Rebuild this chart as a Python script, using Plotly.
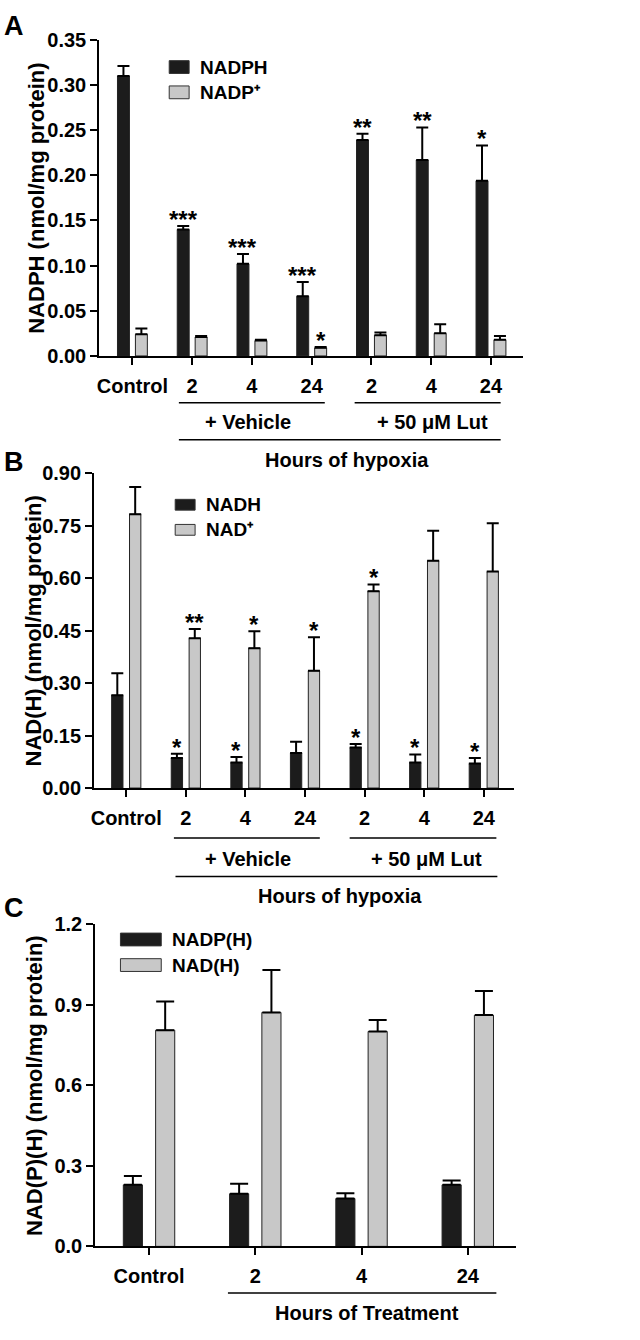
import plotly.graph_objects as go

W, H = 640, 1340
FONT = "Liberation Sans, Arial, sans-serif"

# ---------------- Data ----------------
# Panel A
a_categories = ["Control", "2", "4", "24", "2", "4", "24"]
a_nadph = [0.310, 0.140, 0.102, 0.066, 0.239, 0.217, 0.194]
a_nadph_err = [0.011, 0.004, 0.011, 0.016, 0.007, 0.036, 0.039]
a_nadp = [0.024, 0.021, 0.017, 0.009, 0.023, 0.025, 0.018]
a_nadp_err = [0.0065, 0.001, 0.001, 0.001, 0.003, 0.010, 0.004]
a_nadph_sig = ["", "***", "***", "***", "**", "**", "*"]
a_nadp_sig = ["", "", "", "*", "", "", ""]

# Panel B
b_categories = ["Control", "2", "4", "24", "2", "4", "24"]
b_nadh = [0.265, 0.086, 0.073, 0.100, 0.116, 0.073, 0.070]
b_nadh_err = [0.063, 0.012, 0.016, 0.032, 0.010, 0.023, 0.016]
b_nad = [0.783, 0.428, 0.400, 0.335, 0.563, 0.650, 0.619]
b_nad_err = [0.078, 0.027, 0.048, 0.096, 0.019, 0.086, 0.138]
b_nadh_sig = ["", "*", "*", "", "*", "*", "*"]
b_nad_sig = ["", "**", "*", "*", "*", "", ""]

# Panel C
c_categories = ["Control", "2", "4", "24"]
c_nadph = [0.229, 0.196, 0.178, 0.229]
c_nadph_err = [0.033, 0.037, 0.020, 0.016]
c_nadh = [0.805, 0.871, 0.800, 0.861]
c_nadh_err = [0.107, 0.158, 0.043, 0.090]

BLACK = "#1c1c1c"
GREY = "#c8c8c8"


def px(x):
    return x / W


def py(y):
    return 1 - y / H


fig = go.Figure()


def add_pair(xref, yref, cats, v1, e1, v2, e2, names, width, shift, capw):
    xs = list(range(len(cats)))
    for vals, errs, name, col, sgn in [(v1, e1, names[0], BLACK, -1), (v2, e2, names[1], GREY, 1)]:
        fig.add_trace(go.Bar(
            x=xs, y=vals, name=name, xaxis=xref, yaxis=yref,
            width=width, offset=sgn * shift - width / 2,
            marker=dict(color=col, line=dict(color="#222222", width=1)),
            error_y=dict(type="data", symmetric=False, array=errs,
                         arrayminus=[0] * len(errs), color="black",
                         thickness=2, width=capw),
            showlegend=False,
        ))


add_pair("x", "y", a_categories, a_nadph, a_nadph_err, a_nadp, a_nadp_err,
         ["NADPH", "NADP+"], 0.2, 0.15, 6)
add_pair("x2", "y2", b_categories, b_nadh, b_nadh_err, b_nad, b_nad_err,
         ["NADH", "NAD+"], 0.19, 0.15, 6)
add_pair("x3", "y3", c_categories, c_nadph, c_nadph_err, c_nadh, c_nadh_err,
         ["NADP(H)", "NAD(H)"], 0.18, 0.152, 9)

annotations = []
shapes = []


def add_stars(xref, yref, vals, errs, sigs, shift):
    for i, (v, e, s) in enumerate(zip(vals, errs, sigs)):
        if s:
            annotations.append(dict(
                x=i + shift, y=v + e, xref=xref, yref=yref, text=s,
                showarrow=False, yanchor="bottom", xanchor="center", yshift=-9,
                font=dict(family=FONT, size=24, color="black", weight="bold")))


add_stars("x", "y", a_nadph, a_nadph_err, a_nadph_sig, -0.15)
add_stars("x", "y", a_nadp, a_nadp_err, a_nadp_sig, 0.15)
add_stars("x2", "y2", b_nadh, b_nadh_err, b_nadh_sig, -0.15)
add_stars("x2", "y2", b_nad, b_nad_err, b_nad_sig, 0.15)

TS = 20
txtfont = dict(family=FONT, size=TS, color="black", weight="bold")


def text(x, y, s, size=TS, xanchor="center", angle=0):
    annotations.append(dict(x=px(x), y=py(y), xref="paper", yref="paper", text=s,
                            showarrow=False, xanchor=xanchor, yanchor="middle",
                            textangle=angle,
                            font=dict(family=FONT, size=size, color="black", weight="bold")))


def hline(x0, x1, y, w=1.5):
    shapes.append(dict(type="line", xref="paper", yref="paper", x0=px(x0), x1=px(x1),
                       y0=py(y), y1=py(y), line=dict(color="black", width=w)))


def rect(x0, x1, yc, h, col):
    shapes.append(dict(type="rect", xref="paper", yref="paper", x0=px(x0), x1=px(x1),
                       y0=py(yc + h / 2), y1=py(yc - h / 2),
                       fillcolor=col, line=dict(color="#333333", width=1)))


# panel letters
text(-1, 15, "A", size=27, xanchor="left")
text(-1, 459, "B", size=27, xanchor="left")
text(-1, 912, "C", size=27, xanchor="left")

# y titles
text(34, 190, "NADPH (nmol/mg protein)", size=22, angle=-90)
text(31, 630, "NAD(H) (nmol/mg protein)", size=22, angle=-90)
text(31, 1092, "NAD(P)(H) (nmol/mg protein)", size=22, angle=-90)

# legends
rect(167, 187, 57, 13, BLACK)
text(196, 57, "NADPH", size=19, xanchor="left")
rect(167, 187, 82.7, 13, GREY)
text(196, 82.7, "NADP\u207a", size=19, xanchor="left")

rect(173, 193, 502, 11, BLACK)
text(202, 502, "NADH", size=19, xanchor="left")
rect(173, 193, 527.5, 11, GREY)
text(202, 527.5, "NAD\u207a", size=19, xanchor="left")

rect(118, 159, 944, 13, BLACK)
text(168, 944, "NADP(H)", size=19, xanchor="left")
rect(118, 159, 970, 13, GREY)
text(168, 970, "NAD(H)", size=19, xanchor="left")

# group annotations A
hline(176.7, 323.3, 398.3)
hline(353.3, 500, 398.3)
text(246, 418, "+ Vehicle")
text(432, 418, "+ 50 \u03bcM Lut")
hline(176.7, 500, 436)
text(346, 457, "Hours of hypoxia")

# group annotations B
hline(171.7, 318.3, 840.7)
hline(348.3, 495.7, 840.7)
text(246, 861.7, "+ Vehicle")
text(425, 861.7, "+ 50 \u03bcM Lut")
hline(173.3, 496.7, 880)
text(339, 900, "Hours of hypoxia")

# group annotations C
hline(226, 495.7, 1303.3)
text(366, 1323.3, "Hours of Treatment")


def xax(domain_px, rng, cats):
    return dict(domain=[px(domain_px[0]), px(domain_px[1])], range=rng,
                tickvals=list(range(len(cats))), ticktext=cats,
                showline=True, linewidth=2, linecolor="black",
                ticks="outside", ticklen=7, tickwidth=2, tickcolor="black",
                ticklabelstandoff=4,
                tickfont=txtfont, showgrid=False, zeroline=False, fixedrange=True)


def yax(top_px, bot_px, rng, dtick, fmt, anchor):
    return dict(domain=[py(bot_px), py(top_px)], range=rng, dtick=dtick, tick0=0,
                tickformat=fmt, anchor=anchor,
                showline=True, linewidth=2, linecolor="black",
                ticks="outside", ticklen=7, tickwidth=2, tickcolor="black",
                tickfont=txtfont, showgrid=False, zeroline=False)


fig.update_layout(
    width=W, height=H,
    margin=dict(l=0, r=0, t=0, b=0),
    paper_bgcolor="white", plot_bgcolor="white",
    barmode="overlay",
    showlegend=False,
    xaxis=dict(**xax([96.7, 522.7], [-0.555, 6.54], a_categories), anchor="y"),
    yaxis=yax(29.3, 350.7, [0, 0.35], 0.05, ".2f", "x"),
    xaxis2=dict(**xax([91.5, 513], [-0.54, 6.5], b_categories), anchor="y2"),
    yaxis2=yax(470, 790, [0, 0.90], 0.15, ".2f", "x2"),
    xaxis3=dict(**xax([92.7, 515], [-0.506, 3.45], c_categories), anchor="y3"),
    yaxis3=yax(928.3, 1256, [0, 1.2], 0.3, ".1f", "x3"),
    annotations=annotations,
    shapes=shapes,
)

fig.write_html(
    "out.html",
    config={"displayModeBar": False},
    post_script="document.body.style.margin='0';document.body.style.padding='0';"
                "document.documentElement.style.overflow='hidden';",
)
